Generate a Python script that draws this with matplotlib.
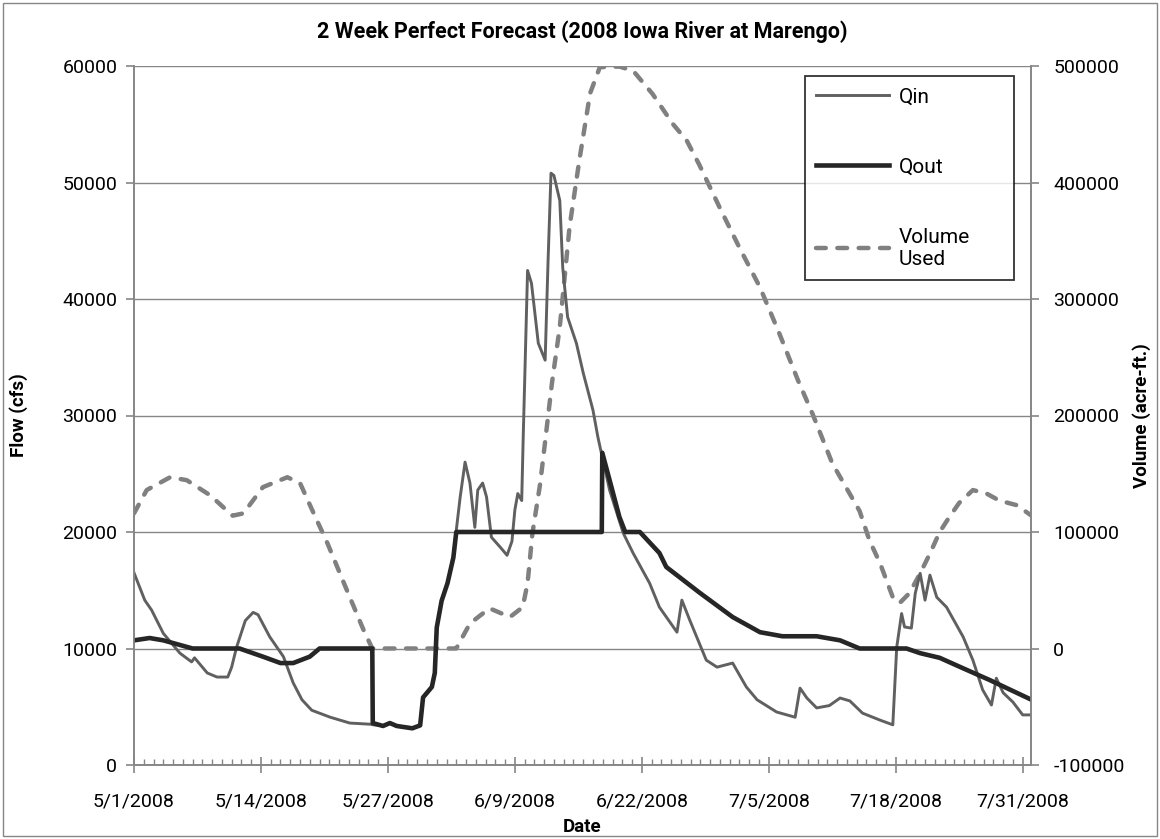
import numpy as np
import pandas as pd
import matplotlib
matplotlib.use("Agg")
import matplotlib.pyplot as plt
import matplotlib.dates as mdates
from matplotlib.patches import Rectangle
from matplotlib.ticker import FixedLocator, FuncFormatter

# ---------------------------------------------------------------------------
# data (days after 5/1/2008)
# ---------------------------------------------------------------------------
qin_day = [0, 1.1, 1.8, 3.0, 4.7, 5.9, 6.2, 7.5, 8.5, 9.6, 10.0, 10.5, 11.4,
           12.2, 12.7, 13.9, 15.3, 16.3, 17.2, 18.2, 20.1, 22.1, 24.2, 24.5,
           25.5, 26.2, 26.9, 28.5, 29.3, 29.6, 30.5, 30.8, 31.0, 31.5, 32.1,
           32.7, 33.0, 33.4, 33.9, 34.4, 34.9, 35.2, 35.7, 36.1, 36.6, 37.5,
           38.2, 38.7, 39.0, 39.3, 39.7, 39.85, 40.3, 40.7, 41.4, 42.1, 42.4,
           42.7, 43.0, 43.6, 43.9, 44.4, 45.3, 46.0, 47.0, 47.5, 47.8, 48.7,
           50.1, 51.1, 52.8, 53.8, 55.6, 56.1, 56.9, 58.6, 59.7, 61.3, 62.7,
           63.8, 65.8, 67.7, 68.2, 68.9, 69.9, 71.2, 72.3, 73.3, 74.6, 76.4,
           77.7, 78.1, 78.6, 78.9, 79.6, 80.0, 80.5, 81.0, 81.5, 82.2, 83.2,
           84.9, 85.9, 86.9, 87.8, 88.3, 89.0, 90.0, 91.0, 91.9]
qin_cfs = [16500, 14150, 13300, 11300, 9600, 8850, 9200, 7900, 7550, 7550,
           8400, 10100, 12400, 13100, 12900, 11000, 9300, 7050, 5600, 4700,
           4100, 3600, 3500, 3450, 3350, 3600, 3350, 3150, 3400, 5800, 6700,
           7900, 11800, 14100, 15600, 17800, 20150, 23000, 26000, 24200,
           20400, 23600, 24200, 23000, 19550, 18700, 18000, 19200, 21900,
           23300, 22700, 28000, 42450, 41350, 36200, 34750, 43300, 50800,
           50600, 48450, 42700, 38450, 36200, 33650, 30450, 28150, 27000,
           23600, 19900, 18200, 15600, 13550, 11400, 14150, 12450, 9000, 8400,
           8750, 6700, 5600, 4550, 4100, 6600, 5750, 4900, 5100, 5750, 5500,
           4450, 3850, 3450, 10100, 13000, 11850, 11750, 14750, 16450, 14150,
           16300, 14400, 13550, 11000, 9000, 6450, 5150, 7450, 6200, 5400,
           4300, 4300]

qout_day = [0, 1.6, 3.0, 6.0, 10.8, 13.2, 15.0, 16.3, 18.0, 19.0, 24.4,
            24.45, 25.5, 26.2, 26.9, 28.5, 29.3, 29.6, 30.5, 30.8, 31.0, 31.5,
            32.1, 32.7, 33.0, 47.9, 47.95, 48.7, 49.7, 50.3, 51.8, 53.8, 54.5,
            57.9, 61.3, 64.1, 66.4, 69.9, 72.3, 74.3, 79.1, 80.5, 82.5, 84.9,
            87.6, 91.9]
qout_cfs = [10700, 10900, 10700, 10000, 10000, 9300, 8750, 8750, 9300, 10000,
            10000, 3600, 3350, 3600, 3350, 3150, 3400, 5800, 6700, 7900,
            11800, 14100, 15600, 17800, 20000, 20000, 26800, 24450, 21300,
            20000, 20000, 18200, 17000, 14800, 12700, 11400, 11050, 11050,
            10700, 10000, 10000, 9600, 9200, 8300, 7300, 5600]

vol_day = [0, 1.3, 3.7, 5.4, 7.8, 10.1, 11.2, 13.2, 15.7, 17.0, 18.4, 19.8,
           21.8, 23.5, 24.4, 33.0, 34.4, 36.4, 38.5, 39.8, 40.3, 40.8, 41.6,
           42.2, 42.8, 43.6, 44.6, 45.6, 46.7, 47.7, 49.7, 51.1, 53.1, 55.2,
           56.6, 57.9, 60.0, 62.0, 64.1, 66.1, 68.0, 69.5, 71.5, 74.3, 75.3,
           76.4, 77.7, 78.4, 79.4, 80.5, 81.5, 82.5, 83.5, 84.5, 85.9, 87.3,
           88.6, 90.4, 91.9]
vol_acft = [116000, 136000, 147000, 144500, 131500, 114000, 116000, 138500,
            147000, 142000, 116000, 90500, 50000, 16000, 0, 0, 21500, 34500,
            27000, 35500, 56000, 99000, 142000, 185000, 228000, 276000,
            362000, 419000, 476500, 499000, 499500, 496000, 476000, 450000,
            436000, 415000, 378000, 344000, 310000, 270000, 230000, 201000,
            159000, 118000, 93000, 73000, 44000, 39000, 47500, 64500, 81500,
            100000, 113000, 125000, 136000, 133000, 127000, 123000, 114000]

start = pd.Timestamp("2008-05-01")
tick_days = [0, 13, 26, 39, 52, 65, 78, 91]
flow_ticks = [0, 10000, 20000, 30000, 40000, 50000, 60000]
vol_ticks = [-100000, 0, 100000, 200000, 300000, 400000, 500000]


def to_dates(days):
    return start + pd.to_timedelta(np.asarray(days, dtype=float), unit="D")


def date_label(v, pos):
    d = mdates.num2date(v)
    return f"{d.month}/{d.day}/{d.year}"


# ---------------------------------------------------------------------------
# plot
# ---------------------------------------------------------------------------
plt.rcParams["font.family"] = ["Roboto", "DejaVu Sans"]
GRID = "#868686"
W, H = 1160, 839

fig = plt.figure(figsize=(W / 100, H / 100), dpi=100)
ax = fig.add_axes([134 / W, 1 - 765 / H, 897 / W, 699 / H])
ax2 = ax.twinx()

ax.set_zorder(2)
ax.patch.set_visible(False)

l_in, = ax.plot(to_dates(qin_day), qin_cfs, color="#606060", lw=2.1,
                label="Qin", solid_joinstyle="round")
l_out, = ax.plot(to_dates(qout_day), qout_cfs, color="#262626", lw=3.3,
                 label="Qout", solid_joinstyle="round")
l_vol, = ax2.plot(to_dates(vol_day), vol_acft, color="#808080", lw=3.2,
                  ls=(0, (2.2, 2.6)), dash_capstyle="round",
                  label="Volume\nUsed")

ax.set_xlim(to_dates([0])[0], to_dates([91.85])[0])
ax.set_ylim(0, 60000)
ax2.set_ylim(-100000, 500000)

ax.set_yticks(flow_ticks)
ax2.set_yticks(vol_ticks)
ax.yaxis.set_major_formatter(FuncFormatter(lambda v, p: f"{int(v)}"))
ax2.yaxis.set_major_formatter(FuncFormatter(lambda v, p: f"{int(v)}"))

major = [mdates.date2num(d) for d in to_dates(tick_days)]
minor = [mdates.date2num(d) for d in to_dates(np.arange(0, 92))]
ax.xaxis.set_major_locator(FixedLocator(major))
ax.xaxis.set_minor_locator(FixedLocator(minor))
ax.xaxis.set_major_formatter(FuncFormatter(date_label))

ax.grid(axis="y", color=GRID, lw=1.0)
for a in (ax, ax2):
    for s in a.spines.values():
        s.set_color(GRID)
        s.set_linewidth(1.2)
    a.spines["top"].set_visible(False)

ax.tick_params(axis="x", which="major", direction="inout", length=11,
               width=1.2, color=GRID, labelsize=14, pad=14)
ax.tick_params(axis="x", which="minor", direction="in", length=4,
               width=1.0, color=GRID)
ax.tick_params(axis="y", direction="out", length=6, width=1.2, color=GRID,
               labelsize=14, pad=6)
ax2.tick_params(axis="y", direction="out", length=6, width=1.2, color=GRID,
                labelsize=14, pad=10)

ax.set_title("2 Week Perfect Forecast (2008 Iowa River at Marengo)",
             fontsize=15.5, fontweight="bold", pad=20)
ax.set_ylabel("Flow (cfs)", fontsize=13.5, fontweight="bold")
ax.yaxis.set_label_coords((28 - 134) / 897, 0.5)
ax2.set_ylabel("Volume (acre-ft.)", fontsize=13.5, fontweight="bold",
               rotation=90)
ax2.yaxis.set_label_coords((1132 - 134) / 897, 0.5)
ax.set_xlabel("Date", fontsize=13.5, fontweight="bold")
ax.xaxis.set_label_coords(0.5, (765 - 818) / 699)

leg = ax.legend(handles=[l_in, l_out, l_vol], loc="upper left",
                bbox_to_anchor=(805 / W, 1 - 285 / H, 209 / W, 209 / H),
                bbox_transform=fig.transFigure, mode="expand", fontsize=15,
                frameon=True, fancybox=False, edgecolor="black",
                handlelength=3.5, handletextpad=0.45, labelspacing=2.45,
                borderpad=0.55, borderaxespad=0)
leg.get_frame().set_linewidth(1.3)

fig.patches.append(Rectangle((0.003, 0.004), 0.994, 0.992,
                             transform=fig.transFigure, fill=False,
                             edgecolor=GRID, lw=1.0))

fig.savefig("out.png", dpi=100)
